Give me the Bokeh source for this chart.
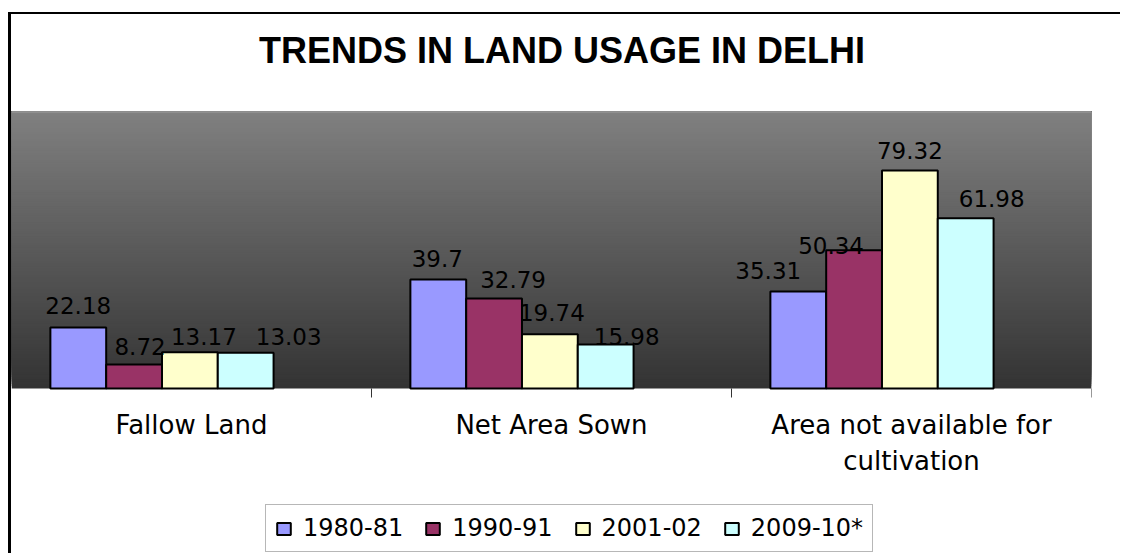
import textwrap
from bokeh.plotting import figure
from bokeh.layouts import column
from bokeh.models import (Range1d, LinearAxis, FixedTicker, BoxAnnotation, Span,
                          Legend, LegendItem, ColumnDataSource, Div)
from bokeh.core.properties import value
from bokeh.embed import file_html
from bokeh.resources import INLINE

# ---------------- data ----------------
title_text = "TRENDS IN LAND USAGE IN DELHI"
categories = ["Fallow Land", "Net Area Sown", "Area not available for cultivation"]
years = ["1980-81", "1990-91", "2001-02", "2009-10*"]
v_1980_81 = [22.18, 39.7, 35.31]
v_1990_91 = [8.72, 32.79, 50.34]
v_2001_02 = [13.17, 19.74, 79.32]
v_2009_10 = [13.03, 15.98, 61.98]

# ---------------- styling / layout ----------------
series = [v_1980_81, v_1990_91, v_2001_02, v_2009_10]
colors = ["#9999FF", "#993366", "#FFFFCC", "#CCFFFF"]
# per-label pixel nudges (as placed in the original chart)
label_dx = [[0, -1, -30], [6, 19, -23], [14, 2, 0], [43, 21, 26]]
label_gap = [[22, 21, 21], [18, 19, 5], [16, 22, 20], [16, 8, 20]]

Y_MAX = 100.8
FIG_H = 442          # figure height (px); frame fills it
PLOT_H = 277         # height of the grey plot area (px)
Y_MIN = -Y_MAX * (FIG_H - PLOT_H) / PLOT_H
GROUP_START = 0.108
BAR_W = 0.155
BODY_FONT = "DejaVu Sans"
W = 1109
FRAME_W = 1080
TITLE_W = 1102

p = figure(width=W, height=FIG_H,
           x_range=Range1d(0, len(categories)), y_range=Range1d(Y_MIN, Y_MAX),
           x_axis_type=None, y_axis_type=None,
           toolbar_location=None, output_backend="svg",
           min_border_left=0, min_border_right=W - FRAME_W,
           min_border_top=0, min_border_bottom=0)
p.outline_line_color = None
p.background_fill_color = "white"
p.border_fill_color = "white"

# gradient plot-area background (each band extends to the top, later ones cover)
n_bands = 120
for i in range(n_bands):
    y0 = Y_MAX * i / n_bands
    t = (i + 0.5) / n_bands
    g = int(round(0x33 + (0x80 - 0x33) * t))
    p.add_layout(BoxAnnotation(bottom=y0, top=Y_MAX,
                               fill_color=f"#{g:02x}{g:02x}{g:02x}", fill_alpha=1,
                               line_alpha=0, level="underlay"))
p.add_layout(Span(location=Y_MAX, dimension="width", line_color="#a0a0a0", line_width=2))
p.add_layout(BoxAnnotation(left=len(categories), right=len(categories), bottom=0, top=Y_MAX,
                           fill_alpha=0, line_color="#a0a0a0", line_width=1))

renderers = []
sources = []
for k, (yr, vals, col) in enumerate(zip(years, series, colors)):
    xs = [i + GROUP_START + BAR_W * (k + 0.5) for i in range(len(categories))]
    src = ColumnDataSource(dict(x=xs, top=vals,
                                label=[f"{v:g}" for v in vals],
                                dx=label_dx[k], dy=[-g for g in label_gap[k]]))
    r = p.vbar(x="x", top="top", bottom=0, width=BAR_W, source=src,
               fill_color=col, line_color="black", line_width=2)
    renderers.append(r)
    sources.append(src)

for src in sources:
    p.text(x="x", y="top", text="label", x_offset="dx", y_offset="dy", source=src,
           text_align="center", text_baseline="alphabetic",
           text_font=value(BODY_FONT), text_font_size="23px", text_color="#000000")

# category axis at y=0: labels at centres, tick marks at boundaries
xaxis = LinearAxis(fixed_location=0,
                   ticker=FixedTicker(ticks=[i + 0.5 for i in range(len(categories))],
                                      minor_ticks=[i + 1 for i in range(len(categories))]))
xaxis.major_label_overrides = {i + 0.5: textwrap.fill(c, 24) for i, c in enumerate(categories)}
xaxis.axis_line_color = None
xaxis.major_tick_line_color = None
xaxis.major_tick_out = 0
xaxis.major_tick_in = 0
xaxis.minor_tick_line_color = "#333333"
xaxis.minor_tick_out = 9
xaxis.minor_tick_in = 0
xaxis.major_label_standoff = 12
xaxis.major_label_text_font = BODY_FONT
xaxis.major_label_text_font_size = "26px"
xaxis.major_label_text_color = "#000000"
p.add_layout(xaxis, "below")

legend = Legend(items=[LegendItem(label=yr, renderers=[r]) for yr, r in zip(years, renderers)],
                location=(254, 1), orientation="horizontal",
                glyph_width=17, glyph_height=15, label_standoff=11, spacing=21,
                padding=9, margin=0,
                label_text_font=BODY_FONT, label_text_font_size="24px",
                label_text_color="#000000",
                border_line_color="#707070", border_line_width=1,
                background_fill_color="white", background_fill_alpha=1)
p.add_layout(legend)

title_div = Div(
    text=(f'<div style="font-family:\'Liberation Sans\',Arial,sans-serif;font-weight:bold;'
          f'font-size:36px;line-height:normal;text-align:center;width:{TITLE_W}px;'
          f'margin:16px 0 0 0;padding:0;color:#000000;white-space:nowrap">{title_text}</div>'),
    width=W, height=97, margin=(0, 0, 0, 0))

layout = column(title_div, p, spacing=0,
                styles={"border-left": "3px solid #000000", "border-top": "2px solid #000000",
                        "margin-left": "8px", "margin-top": "12px"})

open("out.html", "w").write(file_html(layout, INLINE))
